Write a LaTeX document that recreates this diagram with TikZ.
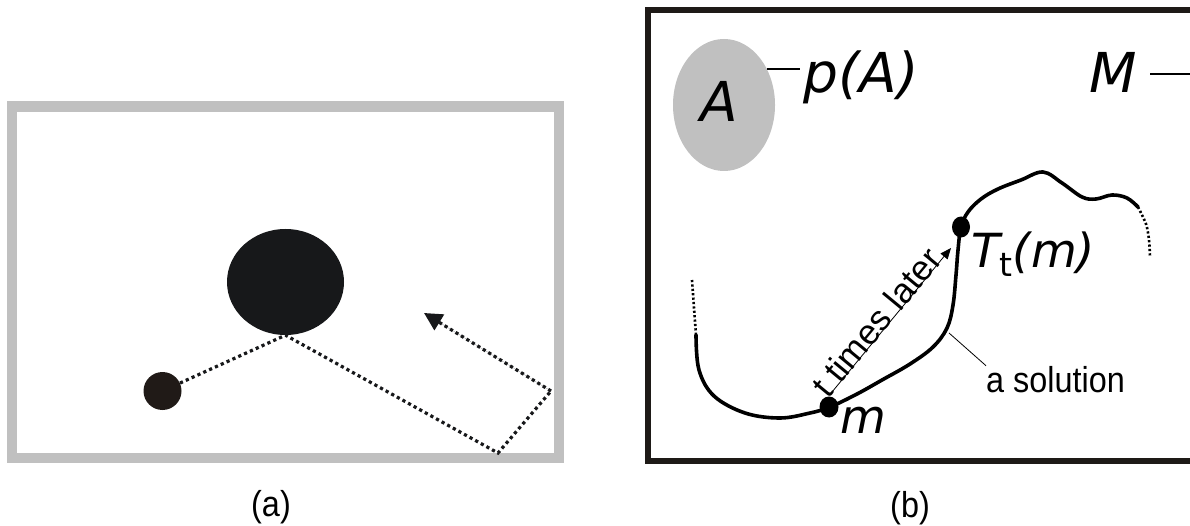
\documentclass[tikz,border=0pt]{standalone}
\usepackage{fontspec}
\setmainfont{Liberation Sans}
\newfontfamily\dv{DejaVu Sans}
\usetikzlibrary{shapes.geometric,arrows.meta}
\definecolor{grayc}{HTML}{C0C0C0}
\definecolor{ink}{HTML}{17181A}
\definecolor{inkb}{HTML}{201A17}
\definecolor{frameb}{HTML}{1E1A17}
\newcommand{\narrow}[1]{\scalebox{0.9}[1]{#1}}
\tikzset{
  dotline/.style={line width=3.2, dash pattern=on 3.2 off 3.2, draw=ink},
  curveline/.style={line width=3.6, draw=black, line cap=round},
  fdot/.style={line width=2.6, dash pattern=on 2.2 off 2.2, draw=black},
  thinline/.style={line width=0.8, draw=black},
  leader/.style={line width=1.6, draw=black},
  bigfont/.style={font=\dv\itshape\fontsize{55}{60}\selectfont},
  midfont/.style={font=\dv\itshape\fontsize{47}{50}\selectfont},
  sansfont/.style={font=\fontsize{36}{38}\selectfont},
  dotnode/.style={ellipse, fill=black, inner sep=0, minimum width=19, minimum height=21}
}
\begin{document}
\begin{tikzpicture}[x=1pt,y=-1pt]
\useasboundingbox (0,0) rectangle (1190,526);
\clip (0,0) rectangle (1190,526);
\fill[white] (0,0) rectangle (1190,526);
% ---------- panel (a)
\draw[line width=10.5, draw=grayc] (12,106.5) rectangle (559,458);
\node[ellipse, fill=ink, minimum width=117, minimum height=106, inner sep=0] (big) at (285.5,282) {};
\node[circle, fill=inkb, minimum width=38, minimum height=36, inner sep=0] (small) at (162.5,391) {};
\coordinate (c1) at (498,453);
\coordinate (c2) at (551,391);
\coordinate (tip) at (424,313);
\draw[dotline] (small) -- (big.south) -- (c1) -- (c2);
\draw[dotline, -{Triangle[length=18,width=18]}, fill=ink] (c2) -- (tip);
\node[sansfont, anchor=base] (la) at (271,516) {\narrow{(a)}};
% ---------- panel (b)
\draw[line width=6, draw=frameb] (647.5,10) rectangle (1200,461);
\node[ellipse, fill=grayc, minimum width=102, minimum height=132, inner sep=0] (A) at (724,105) {};
\node[bigfont, anchor=base] (Alab) at (719,122) {A};
\node[bigfont, anchor=base] (pA) at (861,93) {p(A)};
\draw[leader] (A.40) -- (A.40 -| pA.west);
\node[bigfont, anchor=base] (M) at (1113,93) {M};
\coordinate (Mend) at (1200,74);
\draw[leader] ([xshift=10pt]M.east |- Mend) -- (Mend);
% curve
\draw[fdot] plot[smooth] coordinates {(692,280) (694,308) (696,335)};
\draw[curveline] plot[smooth, tension=0.6] coordinates {(696,335) (699,370) (714,396) (745,413) (780,418) (810,413) (830,407) (857,394) (882,380) (910,364) (933,347) (947,328) (953,305) (956,275) (958,250) (961,227) (968,212) (981,199) (998,189) (1021,180) (1043,172) (1062,183) (1082,197) (1096,199) (1112,195) (1127,198) (1138,207)};
\draw[fdot] plot[smooth] coordinates {(1138,207) (1146,224) (1149,240) (1150,257)};
\node[dotnode] (m) at (829,407) {};
\node[dotnode, minimum width=18] (Tt) at (961,227) {};
\node[midfont, anchor=base west, inner sep=0] (mlab) at (840,433) {m};
\node[midfont, anchor=base west, inner sep=0] (Tlab) at (971,268) {T{\upshape\fontsize{33}{33}\selectfont\raisebox{-9pt}{t}}(m)};
% arrow t times later
\coordinate (ts) at (832,392);
\coordinate (te) at (951,248);
\draw[thinline, -{Triangle[length=11,width=9]}] (ts) -- (te)
  node[pos=0.44, sloped, anchor=base, inner sep=0, yshift=-2pt, font=\fontsize{35}{38}\selectfont] (tl) {t times later};
% a solution
\coordinate (sp) at (949,333);
\node[sansfont, anchor=base west, inner sep=0] (sol) at (986,392) {\narrow{a solution}};
\draw[thinline] (sp) -- (sol.north west);
\node[sansfont, anchor=base] (lb) at (910,517) {\narrow{(b)}};
\end{tikzpicture}
\end{document}
